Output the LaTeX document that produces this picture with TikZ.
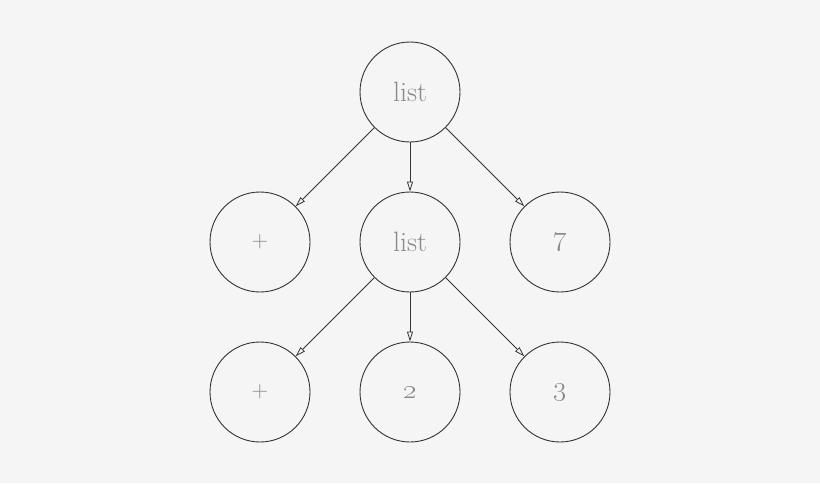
\RequirePackage{fix-cm}
\documentclass[tikz,border=0pt]{standalone}
\usetikzlibrary{arrows.meta}
\definecolor{bg}{HTML}{F5F5F5}
\definecolor{edge}{HTML}{333333}
\definecolor{txt}{HTML}{8A8A8A}
\begin{document}
\begin{tikzpicture}[x=1pt,y=-1pt,
  tnode/.style={circle,draw=edge,line width=0.9pt,minimum size=100pt,inner sep=0pt,text=txt,font=\fontsize{28}{32}\selectfont},
  plus/.style={font=\fontsize{23}{26}\selectfont},
  tedge/.style={draw=edge,line width=0.8pt,-{Triangle[open,length=10pt,width=6pt]}}]
\fill[bg] (0,0) rectangle (820,483);
\useasboundingbox (0,0) rectangle (820,483);
\node[tnode] (r) at (410,92) {list};
\node[tnode,plus] (a) at (260,242) {+};
\node[tnode] (b) at (410,242) {list};
\node[tnode] (c) at (560,242) {\oldstylenums{7}};
\node[tnode,plus] (d) at (260,392) {+};
\node[tnode] (e) at (410,392) {\oldstylenums{2}};
\node[tnode] (f) at (560,392) {\oldstylenums{3}};
\draw[tedge] (r) -- (a);
\draw[tedge] (r) -- (b);
\draw[tedge] (r) -- (c);
\draw[tedge] (b) -- (d);
\draw[tedge] (b) -- (e);
\draw[tedge] (b) -- (f);
\end{tikzpicture}
\end{document}
